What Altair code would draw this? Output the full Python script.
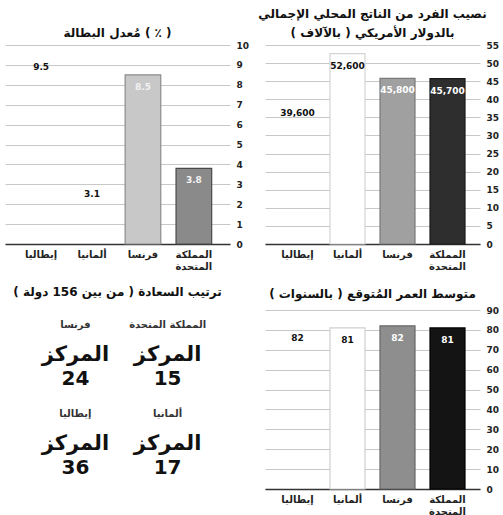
import altair as alt
import pandas as pd

# ---- data ----
countries = ["إيطاليا", "ألمانيا", "فرنسا", "المملكة المتحدة"]
unemployment = [9.5, 3.1, 8.5, 3.8]
unemployment_labels = ["9.5", "3.1", "8.5", "3.8"]
gdp = [39.6, 52.6, 45.8, 45.7]
gdp_labels = ["39,600", "52,600", "45,800", "45,700"]
life = [82, 81, 82, 81]
life_labels = ["82", "81", "82", "81"]
happy_countries = ["المملكة المتحدة", "فرنسا", "ألمانيا", "إيطاليا"]
happy_rank = ["15", "24", "17", "36"]

# ---- styles ----
FONT = "DejaVu Sans"
unemp_fill = ["transparent", "transparent", "#c8c8c8", "#8a8a8a"]
unemp_stroke = ["transparent", "transparent", "#8c8c8c", "#4a4a4a"]
unemp_text = ["#111111", "#111111", "#f2f2f2", "#f2f2f2"]
gdp_fill = ["transparent", "#ffffff", "#a0a0a0", "#2e2e2e"]
gdp_stroke = ["transparent", "#d4d4d4", "#7a7a7a", "#1a1a1a"]
gdp_text = ["#111111", "#111111", "#ffffff", "#ffffff"]
life_fill = ["transparent", "#ffffff", "#8e8e8e", "#141414"]
life_stroke = ["transparent", "#cfcfcf", "#666666", "#000000"]
life_text = ["#111111", "#111111", "#ffffff", "#ffffff"]


def bar_panel(values, labels, fills, strokes, tcolors, ymax, step, title, width, height,
              pad_outer, title_offset):
    df = pd.DataFrame({
        "country": countries,
        "value": values,
        "label": labels,
        "fill": fills,
        "stroke": strokes,
        "tcolor": tcolors,
    })
    xenc = alt.X(
        "country:N",
        sort=countries,
        scale=alt.Scale(paddingInner=0.3, paddingOuter=pad_outer),
        axis=alt.Axis(
            title=None, labelAngle=0, ticks=False, domainColor="#333333", domainWidth=1.5,
            labelFontSize=10, labelFontWeight="bold", labelColor="#222222", labelPadding=5,
            labelLineHeight=12, labelExpr="split(datum.label, ' ')", labelFont=FONT,
        ),
    )
    yenc = alt.Y(
        "value:Q",
        scale=alt.Scale(domain=[0, ymax], nice=False, zero=True),
        axis=alt.Axis(
            title=None, orient="right", values=list(range(0, ymax + 1, step)),
            ticks=False, domain=False, grid=True, gridColor="#c8c8c8", gridWidth=1,
            labelFontSize=9, labelFontWeight="bold", labelColor="#222222", labelPadding=6,
            labelFont=FONT, labelOverlap=False, labelFlush=False,
        ),
    )
    base = alt.Chart(df).encode(x=xenc, y=yenc)
    bars = base.mark_bar(strokeWidth=1.2).encode(
        color=alt.Color("fill:N", scale=None),
        stroke=alt.Stroke("stroke:N", scale=None),
    )
    text = base.mark_text(dy=12, fontSize=9, fontWeight="bold", font=FONT).encode(
        text="label:N",
        color=alt.Color("tcolor:N", scale=None),
    )
    return alt.layer(bars, text).properties(
        width=width, height=height,
        title=alt.TitleParams(title, fontSize=12, fontWeight="bold", font=FONT, anchor="middle",
                              offset=title_offset, color="#111111", lineHeight=19),
    )


unemp_chart = bar_panel(unemployment, unemployment_labels, unemp_fill, unemp_stroke, unemp_text,
                        10, 1, "مُعدل البطالة ( ٪ )", 225, 199, 0.36, 1)
gdp_chart = bar_panel(gdp, gdp_labels, gdp_fill, gdp_stroke, gdp_text,
                      55, 5, ["نصيب الفرد من الناتج المحلي الإجمالي", "بالدولار الأمريكي ( بالآلاف )"],
                      215, 199, 0.3, 1)
life_chart = bar_panel(life, life_labels, life_fill, life_stroke, life_text,
                       90, 10, "متوسط العمر المُتوقع ( بالسنوات )", 215, 179, 0.3, 5)

happy_df = pd.DataFrame({
    "name": happy_countries,
    "rank": happy_rank,
    "word": ["المركز"] * 4,
    "col": [1, 0, 1, 0],
    "row": [0, 0, 1, 1],
})
hx = alt.X("col:O", scale=alt.Scale(type="point", padding=0.72), axis=None)
hy = alt.Y("row:O", scale=alt.Scale(type="point", padding=0.5), axis=None)
hbase = alt.Chart(happy_df).encode(x=hx, y=hy)
h_name = hbase.mark_text(dy=-30, dx=4, fontSize=10, fontWeight="bold", color="#333333", font=FONT).encode(text="name:N")
h_word = hbase.mark_text(dy=0, dx=4, fontSize=21, fontWeight="bold", color="#111111", font=FONT).encode(text="word:N")
h_rank = hbase.mark_text(dy=24, dx=4, fontSize=20, fontWeight="bold", color="#111111", font=FONT).encode(text="rank:N")
happy_chart = alt.layer(h_name, h_word, h_rank).properties(
    width=225, height=179,
    title=alt.TitleParams("ترتيب السعادة ( من بين 156 دولة )", fontSize=12, fontWeight="bold",
                          font=FONT, anchor="middle", offset=11, color="#111111"),
)

chart = alt.concat(
    unemp_chart, gdp_chart, happy_chart, life_chart,
    columns=2, spacing={"row": 66, "column": 35}, bounds="flush",
).properties(
    padding={"left": 5, "top": 8, "right": 0, "bottom": 0},
    background="#ffffff",
).configure_view(stroke=None)

chart.save("out.html", embed_options={"renderer": "svg", "actions": False})
